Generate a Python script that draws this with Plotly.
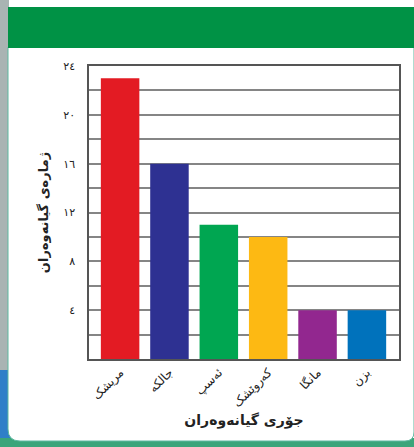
import plotly.graph_objects as go

# Data
animals = ["مریشک", "جالکە", "ئەسپ", "کەروێشک", "مانگا", "بزن"]
counts = [23, 16, 11, 10, 4, 4]
bar_colors = ["#e31b23", "#2e3192", "#00a651", "#fdb913", "#92278f", "#0072bc"]
grid_vals = [2, 4, 6, 8, 10, 12, 14, 16, 18, 20, 22, 24]
grid_text = ["", "٤", "", "٨", "", "١٢", "", "١٦", "", "٢٠", "", "٢٤"]

W, H = 414, 447
L, R, T, B = 89, 15, 66, 88
pw, ph = W - L - R, H - T - B


def px(x):
    return (x - L) / pw


def py(y):
    return 1 - (y - T) / ph


fig = go.Figure()
fig.add_trace(go.Bar(
    x=list(range(len(animals))),
    y=counts,
    width=0.78,
    marker=dict(color=bar_colors, line=dict(width=0)),
    hoverinfo="skip",
))

# ── card frame ──────────────────────────────────────────────
shapes = [
    dict(type="rect", xref="paper", yref="paper", layer="below",
         x0=px(0), x1=px(9), y0=py(447), y1=py(0),
         fillcolor="#a9b4b3", line=dict(width=0)),
    dict(type="rect", xref="paper", yref="paper", layer="below",
         x0=px(0), x1=px(30), y0=py(447), y1=py(370),
         fillcolor="#2f7fc8", line=dict(width=0)),
    dict(type="rect", xref="paper", yref="paper", layer="below",
         x0=px(0), x1=px(414), y0=py(447), y1=py(438),
         fillcolor="#3aa57a", line=dict(width=0)),
    dict(type="path", xref="paper", yref="paper", layer="below",
         path=(f"M {px(8)} {py(47)} L {px(414)} {py(47)} L {px(414)} {py(432)} "
               f"Q {px(414)} {py(441)} {px(405)} {py(441)} L {px(20)} {py(441)} "
               f"Q {px(8)} {py(441)} {px(8)} {py(429)} Z"),
         fillcolor="white", line=dict(color="#5cb9a0", width=1)),
    dict(type="rect", xref="paper", yref="paper", layer="below",
         x0=px(8), x1=px(414), y0=py(48), y1=py(7),
         fillcolor="#009245", line=dict(width=0)),
]

fig.update_layout(
    width=W, height=H,
    margin=dict(l=L, r=R, t=T, b=B),
    paper_bgcolor="white",
    plot_bgcolor="rgba(0,0,0,0)",
    showlegend=False,
    font=dict(family="DejaVu Sans", color="#222"),
    shapes=shapes,
    xaxis=dict(
        range=[-0.63, 5.65],
        tickvals=list(range(len(animals))),
        ticktext=animals,
        tickangle=-45,
        tickfont=dict(size=12, color="#222"),
        showgrid=False, zeroline=False,
        showline=True, linecolor="#555", linewidth=1.5, mirror=True,
        title=dict(text="<b>جۆری گیانەوەران</b>", font=dict(size=14, color="#222"),
                   standoff=6),
    ),
    yaxis=dict(
        range=[0, 24],
        tickvals=grid_vals,
        ticktext=grid_text,
        tickfont=dict(size=11, color="#222"),
        ticklabelstandoff=10,
        showgrid=True, gridcolor="#858585", gridwidth=1.6,
        zeroline=False,
        showline=True, linecolor="#555", linewidth=1.5, mirror=True,
        title=dict(text="<b>ژمارەی گیانەوەران</b>", font=dict(size=13, color="#222"),
                   standoff=12),
    ),
)

# the page body has a default 8px margin; drop it so the figure fills the window
fig.write_html("out.html", config={"displayModeBar": False},
               post_script="document.body.style.margin='0';")
